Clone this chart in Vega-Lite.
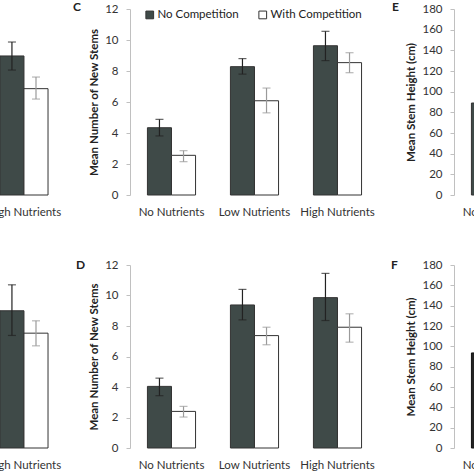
{
  "$schema": "https://vega.github.io/schema/vega-lite/v6.json",
  "autosize": {"type": "pad"},
  "padding": {"left": -173, "top": 1, "right": -229, "bottom": 0},
  "background": "white",
  "config": {
    "font": "Lato",
    "view": {"stroke": null},
    "axisY": {"grid": false, "labelOverlap": false, "domainColor": "#c0c0c0", "tickColor": "#c0c0c0", "tickSize": 4, "labelPadding": 8, "labelFontSize": 11.5, "labelColor": "#333333", "titleFontSize": 11.5, "titleFontWeight": "bold", "titleColor": "#222222", "titlePadding": 5},
    "axisX": {"domain": false, "ticks": false, "grid": false, "labelPadding": 11, "labelFontSize": 11.5, "labelColor": "#333333", "labelAngle": 0},
    "title": {"fontSize": 12, "fontWeight": "bold", "anchor": "start", "frame": "group", "color": "#222222"},
    "legend": {"padding": 0}
  },
  "datasets": {
    "A": [
      {"nutrient": "High Nutrients", "comp": "No Competition", "mean": 8.97, "lo": 8.06, "hi": 9.87},
      {"nutrient": "High Nutrients", "comp": "With Competition", "mean": 6.86, "lo": 6.19, "hi": 7.61}
    ],
    "B": [
      {"nutrient": "High Nutrients", "comp": "No Competition", "mean": 9.0, "lo": 7.38, "hi": 10.7},
      {"nutrient": "High Nutrients", "comp": "With Competition", "mean": 7.53, "lo": 6.7, "hi": 8.34}
    ],
    "C": [
      {"nutrient": "No Nutrients", "comp": "No Competition", "mean": 4.34, "lo": 3.81, "hi": 4.88},
      {"nutrient": "No Nutrients", "comp": "With Competition", "mean": 2.56, "lo": 2.15, "hi": 2.86},
      {"nutrient": "Low Nutrients", "comp": "No Competition", "mean": 8.28, "lo": 7.8, "hi": 8.8},
      {"nutrient": "Low Nutrients", "comp": "With Competition", "mean": 6.08, "lo": 5.3, "hi": 6.9},
      {"nutrient": "High Nutrients", "comp": "No Competition", "mean": 9.63, "lo": 8.67, "hi": 10.56},
      {"nutrient": "High Nutrients", "comp": "With Competition", "mean": 8.54, "lo": 7.89, "hi": 9.18}
    ],
    "D": [
      {"nutrient": "No Nutrients", "comp": "No Competition", "mean": 4.04, "lo": 3.43, "hi": 4.58},
      {"nutrient": "No Nutrients", "comp": "With Competition", "mean": 2.4, "lo": 2.03, "hi": 2.73},
      {"nutrient": "Low Nutrients", "comp": "No Competition", "mean": 9.38, "lo": 8.4, "hi": 10.4},
      {"nutrient": "Low Nutrients", "comp": "With Competition", "mean": 7.37, "lo": 6.77, "hi": 7.92},
      {"nutrient": "High Nutrients", "comp": "No Competition", "mean": 9.86, "lo": 8.36, "hi": 11.45},
      {"nutrient": "High Nutrients", "comp": "With Competition", "mean": 7.92, "lo": 6.94, "hi": 8.8}
    ],
    "E": [
      {"nutrient": "No Nutrients", "comp": "No Competition", "mean": 89, "lo": 80, "hi": 98}
    ],
    "F": [
      {"nutrient": "No Nutrients", "comp": "No Competition", "mean": 93.5, "lo": 85, "hi": 102}
    ]
  },
  "columns": 3,
  "spacing": {"row": 70, "column": 75},
  "bounds": "flush",
  "resolve": {"scale": {"color": "independent"}, "legend": {"color": "independent"}},
  "concat": [
    {
      "width": 228, "height": 186,
      "data": {"name": "A"},
      "encoding": {
        "x": {"field": "nutrient", "type": "nominal", "title": null, "sort": null, "scale": {"domain": ["No Nutrients", "Low Nutrients", "High Nutrients"], "paddingInner": 0.42, "paddingOuter": 0.084}, "axis": {"values": ["High Nutrients"]}},
        "xOffset": {"field": "comp", "type": "nominal", "scale": {"domain": ["No Competition", "With Competition"], "paddingInner": 0, "paddingOuter": 0}}
      },
      "layer": [
        {"mark": {"type": "bar", "stroke": "#333333", "strokeWidth": 1}, "encoding": {"y": {"field": "mean", "type": "quantitative", "scale": {"domain": [0, 12]}, "axis": null}, "color": {"field": "comp", "type": "nominal", "scale": {"domain": ["No Competition", "With Competition"], "range": ["#3f4a48", "#ffffff"]}, "legend": null}}},
        {"mark": {"type": "rule", "strokeWidth": 1.2}, "encoding": {"y": {"field": "lo", "type": "quantitative", "axis": null}, "y2": {"field": "hi"}, "color": {"condition": {"test": "datum.comp === 'No Competition'", "value": "#222222"}, "value": "#9a9a9a"}}},
        {"mark": {"type": "tick", "orient": "horizontal", "size": 8, "thickness": 1.2}, "encoding": {"y": {"field": "lo", "type": "quantitative", "axis": null}, "color": {"condition": {"test": "datum.comp === 'No Competition'", "value": "#222222"}, "value": "#9a9a9a"}}},
        {"mark": {"type": "tick", "orient": "horizontal", "size": 8, "thickness": 1.2}, "encoding": {"y": {"field": "hi", "type": "quantitative", "axis": null}, "color": {"condition": {"test": "datum.comp === 'No Competition'", "value": "#222222"}, "value": "#9a9a9a"}}}
      ]
    },
    {
      "width": 249, "height": 186,
      "data": {"name": "C"},
      "title": {"text": "C", "dx": -57, "dy": 15},
      "encoding": {
        "x": {"field": "nutrient", "type": "nominal", "title": null, "sort": null, "scale": {"domain": ["No Nutrients", "Low Nutrients", "High Nutrients"], "paddingInner": 0.42, "paddingOuter": 0.21}},
        "xOffset": {"field": "comp", "type": "nominal", "scale": {"domain": ["No Competition", "With Competition"], "paddingInner": 0, "paddingOuter": 0}}
      },
      "layer": [
        {"mark": {"type": "bar", "stroke": "#333333", "strokeWidth": 1}, "encoding": {"y": {"field": "mean", "type": "quantitative", "title": "Mean Number of New Stems", "scale": {"domain": [0, 12]}, "axis": {"values": [0, 2, 4, 6, 8, 10, 12]}}, "color": {"field": "comp", "type": "nominal", "scale": {"domain": ["No Competition", "With Competition"], "range": ["#3f4a48", "#ffffff"]}, "legend": {"orient": "none", "legendX": 14, "legendY": 0, "direction": "horizontal", "title": null, "symbolType": "square", "symbolSize": 60, "symbolStrokeColor": "#333333", "symbolStrokeWidth": 1, "labelFontSize": 11.5, "labelColor": "#222222", "labelOffset": 2, "columnPadding": 17}}}},
        {"mark": {"type": "rule", "strokeWidth": 1.2}, "encoding": {"y": {"field": "lo", "type": "quantitative", "title": "Mean Number of New Stems", "axis": {"values": [0, 2, 4, 6, 8, 10, 12]}}, "y2": {"field": "hi"}, "color": {"condition": {"test": "datum.comp === 'No Competition'", "value": "#222222"}, "value": "#9a9a9a"}}},
        {"mark": {"type": "tick", "orient": "horizontal", "size": 8, "thickness": 1.2}, "encoding": {"y": {"field": "lo", "type": "quantitative", "title": "Mean Number of New Stems", "axis": {"values": [0, 2, 4, 6, 8, 10, 12]}}, "color": {"condition": {"test": "datum.comp === 'No Competition'", "value": "#222222"}, "value": "#9a9a9a"}}},
        {"mark": {"type": "tick", "orient": "horizontal", "size": 8, "thickness": 1.2}, "encoding": {"y": {"field": "hi", "type": "quantitative", "title": "Mean Number of New Stems", "axis": {"values": [0, 2, 4, 6, 8, 10, 12]}}, "color": {"condition": {"test": "datum.comp === 'No Competition'", "value": "#222222"}, "value": "#9a9a9a"}}}
      ]
    },
    {
      "width": 249, "height": 186,
      "data": {"name": "E"},
      "title": {"text": "E", "dx": -62, "dy": 15},
      "encoding": {
        "x": {"field": "nutrient", "type": "nominal", "title": null, "sort": null, "scale": {"domain": ["No Nutrients", "Low Nutrients", "High Nutrients"], "paddingInner": 0.42, "paddingOuter": 0.21}},
        "xOffset": {"field": "comp", "type": "nominal", "scale": {"domain": ["No Competition", "With Competition"], "paddingInner": 0, "paddingOuter": 0}}
      },
      "layer": [
        {"mark": {"type": "bar", "stroke": "#333333", "strokeWidth": 1}, "encoding": {"y": {"field": "mean", "type": "quantitative", "title": "Mean Stem Height (cm)", "scale": {"domain": [0, 180]}, "axis": {"values": [0, 20, 40, 60, 80, 100, 120, 140, 160, 180]}}, "color": {"field": "comp", "type": "nominal", "scale": {"domain": ["No Competition", "With Competition"], "range": ["#3f4a48", "#ffffff"]}, "legend": null}}}
      ]
    },
    {
      "width": 228, "height": 183,
      "data": {"name": "B"},
      "encoding": {
        "x": {"field": "nutrient", "type": "nominal", "title": null, "sort": null, "scale": {"domain": ["No Nutrients", "Low Nutrients", "High Nutrients"], "paddingInner": 0.42, "paddingOuter": 0.084}, "axis": {"values": ["High Nutrients"]}},
        "xOffset": {"field": "comp", "type": "nominal", "scale": {"domain": ["No Competition", "With Competition"], "paddingInner": 0, "paddingOuter": 0}}
      },
      "layer": [
        {"mark": {"type": "bar", "stroke": "#333333", "strokeWidth": 1}, "encoding": {"y": {"field": "mean", "type": "quantitative", "scale": {"domain": [0, 12]}, "axis": null}, "color": {"field": "comp", "type": "nominal", "scale": {"domain": ["No Competition", "With Competition"], "range": ["#3f4a48", "#ffffff"]}, "legend": null}}},
        {"mark": {"type": "rule", "strokeWidth": 1.2}, "encoding": {"y": {"field": "lo", "type": "quantitative", "axis": null}, "y2": {"field": "hi"}, "color": {"condition": {"test": "datum.comp === 'No Competition'", "value": "#222222"}, "value": "#9a9a9a"}}},
        {"mark": {"type": "tick", "orient": "horizontal", "size": 8, "thickness": 1.2}, "encoding": {"y": {"field": "lo", "type": "quantitative", "axis": null}, "color": {"condition": {"test": "datum.comp === 'No Competition'", "value": "#222222"}, "value": "#9a9a9a"}}},
        {"mark": {"type": "tick", "orient": "horizontal", "size": 8, "thickness": 1.2}, "encoding": {"y": {"field": "hi", "type": "quantitative", "axis": null}, "color": {"condition": {"test": "datum.comp === 'No Competition'", "value": "#222222"}, "value": "#9a9a9a"}}}
      ]
    },
    {
      "width": 249, "height": 183,
      "data": {"name": "D"},
      "title": {"text": "D", "dx": -54, "dy": 17},
      "encoding": {
        "x": {"field": "nutrient", "type": "nominal", "title": null, "sort": null, "scale": {"domain": ["No Nutrients", "Low Nutrients", "High Nutrients"], "paddingInner": 0.42, "paddingOuter": 0.21}},
        "xOffset": {"field": "comp", "type": "nominal", "scale": {"domain": ["No Competition", "With Competition"], "paddingInner": 0, "paddingOuter": 0}}
      },
      "layer": [
        {"mark": {"type": "bar", "stroke": "#333333", "strokeWidth": 1}, "encoding": {"y": {"field": "mean", "type": "quantitative", "title": "Mean Number of New Stems", "scale": {"domain": [0, 12]}, "axis": {"values": [0, 2, 4, 6, 8, 10, 12]}}, "color": {"field": "comp", "type": "nominal", "scale": {"domain": ["No Competition", "With Competition"], "range": ["#3f4a48", "#ffffff"]}, "legend": null}}},
        {"mark": {"type": "rule", "strokeWidth": 1.2}, "encoding": {"y": {"field": "lo", "type": "quantitative", "title": "Mean Number of New Stems", "axis": {"values": [0, 2, 4, 6, 8, 10, 12]}}, "y2": {"field": "hi"}, "color": {"condition": {"test": "datum.comp === 'No Competition'", "value": "#222222"}, "value": "#9a9a9a"}}},
        {"mark": {"type": "tick", "orient": "horizontal", "size": 8, "thickness": 1.2}, "encoding": {"y": {"field": "lo", "type": "quantitative", "title": "Mean Number of New Stems", "axis": {"values": [0, 2, 4, 6, 8, 10, 12]}}, "color": {"condition": {"test": "datum.comp === 'No Competition'", "value": "#222222"}, "value": "#9a9a9a"}}},
        {"mark": {"type": "tick", "orient": "horizontal", "size": 8, "thickness": 1.2}, "encoding": {"y": {"field": "hi", "type": "quantitative", "title": "Mean Number of New Stems", "axis": {"values": [0, 2, 4, 6, 8, 10, 12]}}, "color": {"condition": {"test": "datum.comp === 'No Competition'", "value": "#222222"}, "value": "#9a9a9a"}}}
      ]
    },
    {
      "width": 249, "height": 183,
      "data": {"name": "F"},
      "title": {"text": "F", "dx": -63, "dy": 17},
      "encoding": {
        "x": {"field": "nutrient", "type": "nominal", "title": null, "sort": null, "scale": {"domain": ["No Nutrients", "Low Nutrients", "High Nutrients"], "paddingInner": 0.42, "paddingOuter": 0.21}},
        "xOffset": {"field": "comp", "type": "nominal", "scale": {"domain": ["No Competition", "With Competition"], "paddingInner": 0, "paddingOuter": 0}}
      },
      "layer": [
        {"mark": {"type": "bar", "stroke": "#111111", "strokeWidth": 1}, "encoding": {"y": {"field": "mean", "type": "quantitative", "title": "Mean Stem Height (cm)", "scale": {"domain": [0, 180]}, "axis": {"values": [0, 20, 40, 60, 80, 100, 120, 140, 160, 180]}}, "color": {"field": "comp", "type": "nominal", "scale": {"domain": ["No Competition", "With Competition"], "range": ["#222222", "#ffffff"]}, "legend": null}}}
      ]
    }
  ]
}
